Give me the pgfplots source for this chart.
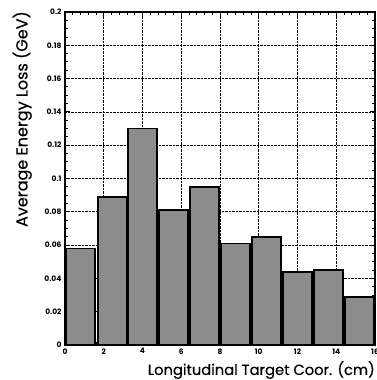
\documentclass[border=0pt]{standalone}
\usepackage{fontspec}
\setmainfont{Poppins}
\newfontfamily\labelfont[FakeBold=0.4]{Poppins}
\usepackage{pgfplots}
\pgfplotsset{compat=1.18}
\begin{document}
\begin{tikzpicture}
\begin{axis}[
  name=ax,
  scale only axis, width=310pt, height=333pt,
  xmin=0, xmax=16, ymin=0, ymax=0.2,
  xtick={0,2,4,6,8,10,12,14,16},
  ytick={0,0.02,0.04,0.06,0.08,0.1,0.12,0.14,0.16,0.18,0.2},
  minor x tick num=4, minor y tick num=3,
  tick align=inside,
  xtick pos=both, ytick pos=both,
  major tick length=5pt, minor tick length=3pt,
  tick style={black, line width=0.9pt},
  grid=major,
  major grid style={black, densely dotted, line width=0.6pt},
  axis line style={line width=1.3pt},
  scaled y ticks=false,
  /pgf/number format/assume math mode=true,
  yticklabel style={/pgf/number format/fixed, /pgf/number format/precision=2},
  ticklabel style={font=\fontsize{7.5}{8}\selectfont\bfseries},
  xlabel={Longitudinal Target Coor. (cm)},
  ylabel={Average Energy Loss (GeV)},
  xlabel style={font=\labelfont\fontsize{14.7}{16}\selectfont, inner sep=1pt,
    at={([xshift=1pt,yshift=-15pt]rel axis cs:1,0)}, anchor=north east},
  ylabel style={font=\labelfont\fontsize{16}{18}\selectfont, inner sep=1pt,
    at={([xshift=-32pt,yshift=2pt]rel axis cs:0,1)}, anchor=south east},
]
\addplot[ybar, bar width=1.5, fill=black!45, draw=black, line width=1.6pt]
  coordinates {(0.8,0.058) (2.45,0.089) (4.0,0.130) (5.6,0.081) (7.2,0.095)
               (8.8,0.061) (10.4,0.065) (12.0,0.044) (13.6,0.045) (15.2,0.029)};
\end{axis}
\pgfresetboundingbox
\path ([xshift=-65pt,yshift=-35pt]ax.south west) rectangle ([xshift=2pt,yshift=12pt]ax.north east);
\end{tikzpicture}
\end{document}
